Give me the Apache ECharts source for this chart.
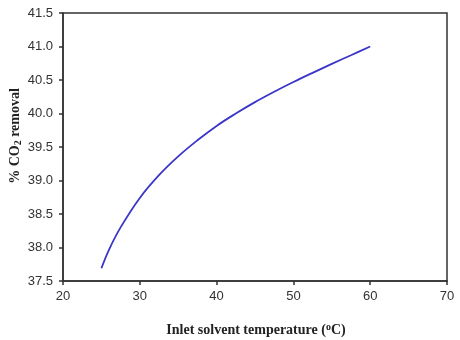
<!DOCTYPE html>
<html>
<head>
<meta charset="utf-8">
<script src="https://cdn.jsdelivr.net/npm/echarts@6/dist/echarts.min.js"></script>
<style>
  html, body { margin: 0; padding: 0; background: #fff; }
  #chart { width: 460px; height: 340px; }
</style>
</head>
<body>
<div id="chart"></div>
<script>
// temperature (°C) and % CO2 removal
var temps = [25, 26, 27.5, 30, 32.5, 35, 37.5, 40, 42.5, 45, 47.5, 50, 52.5, 55, 57.5, 60];
var removal = [37.69, 37.97, 38.30, 38.74, 39.08, 39.36, 39.60, 39.815, 40.00, 40.17, 40.325, 40.47, 40.607, 40.74, 40.87, 41.0];
var xTicks = { min: 20, max: 70, step: 10 };
var yTicks = { min: 37.5, max: 41.5, step: 0.5 };

var points = temps.map(function (t, i) { return [t, removal[i]]; });

var myChart = echarts.init(document.getElementById('chart'));

var axisLabelStyle = {
    color: '#333',
    fontSize: 13,
    fontFamily: 'Liberation Sans, Arial, sans-serif'
};

var option = {
    animation: false,
    grid: {
        left: 63,
        right: 13,
        top: 13,
        bottom: 59,
        show: true,
        borderColor: '#333',
        borderWidth: 1.5
    },
    xAxis: {
        type: 'value',
        min: xTicks.min,
        max: xTicks.max,
        interval: xTicks.step,
        axisLine: { show: true, lineStyle: { color: '#333', width: 1.5 } },
        axisTick: { show: true, inside: false, length: 4, lineStyle: { color: '#333', width: 1.5 } },
        axisLabel: Object.assign({ margin: 9 }, axisLabelStyle),
        splitLine: { show: false }
    },
    yAxis: {
        type: 'value',
        min: yTicks.min,
        max: yTicks.max,
        interval: yTicks.step,
        axisLine: { show: true, lineStyle: { color: '#333', width: 1.5 } },
        axisTick: { show: true, inside: false, length: 4, lineStyle: { color: '#333', width: 1.5 } },
        axisLabel: Object.assign({
            margin: 10,
            formatter: function (v) { return v.toFixed(1); }
        }, axisLabelStyle),
        splitLine: { show: false }
    },
    graphic: [
        {
            type: 'text',
            x: 256,
            y: 330,
            style: {
                text: '{t|Inlet solvent temperature (}{s|o}{t|C)}',
                align: 'center',
                verticalAlign: 'middle',
                rich: {
                    t: { fontFamily: 'Liberation Serif, Times New Roman, serif', fontWeight: 'bold', fontSize: 14, fill: '#222' },
                    s: { fontFamily: 'Liberation Serif, Times New Roman, serif', fontWeight: 'bold', fontSize: 10, fill: '#222', verticalAlign: 'top', padding: [0, 0, 6, 0] }
                }
            }
        },
        {
            type: 'text',
            x: 15,
            y: 136,
            rotation: Math.PI / 2,
            style: {
                text: '{t|% CO}{s|2}{t| removal}',
                align: 'center',
                verticalAlign: 'middle',
                rich: {
                    t: { fontFamily: 'Liberation Serif, Times New Roman, serif', fontWeight: 'bold', fontSize: 14, fill: '#222' },
                    s: { fontFamily: 'Liberation Serif, Times New Roman, serif', fontWeight: 'bold', fontSize: 10, fill: '#222', verticalAlign: 'bottom', padding: [6, 0, 0, 0] }
                }
            }
        }
    ],
    series: [
        {
            type: 'line',
            data: points,
            smooth: 0.4,
            showSymbol: false,
            lineStyle: { color: '#3b35c8', width: 1.8 }
        }
    ]
};

myChart.setOption(option);
window.onresize = myChart.resize;
</script>
</body>
</html>
